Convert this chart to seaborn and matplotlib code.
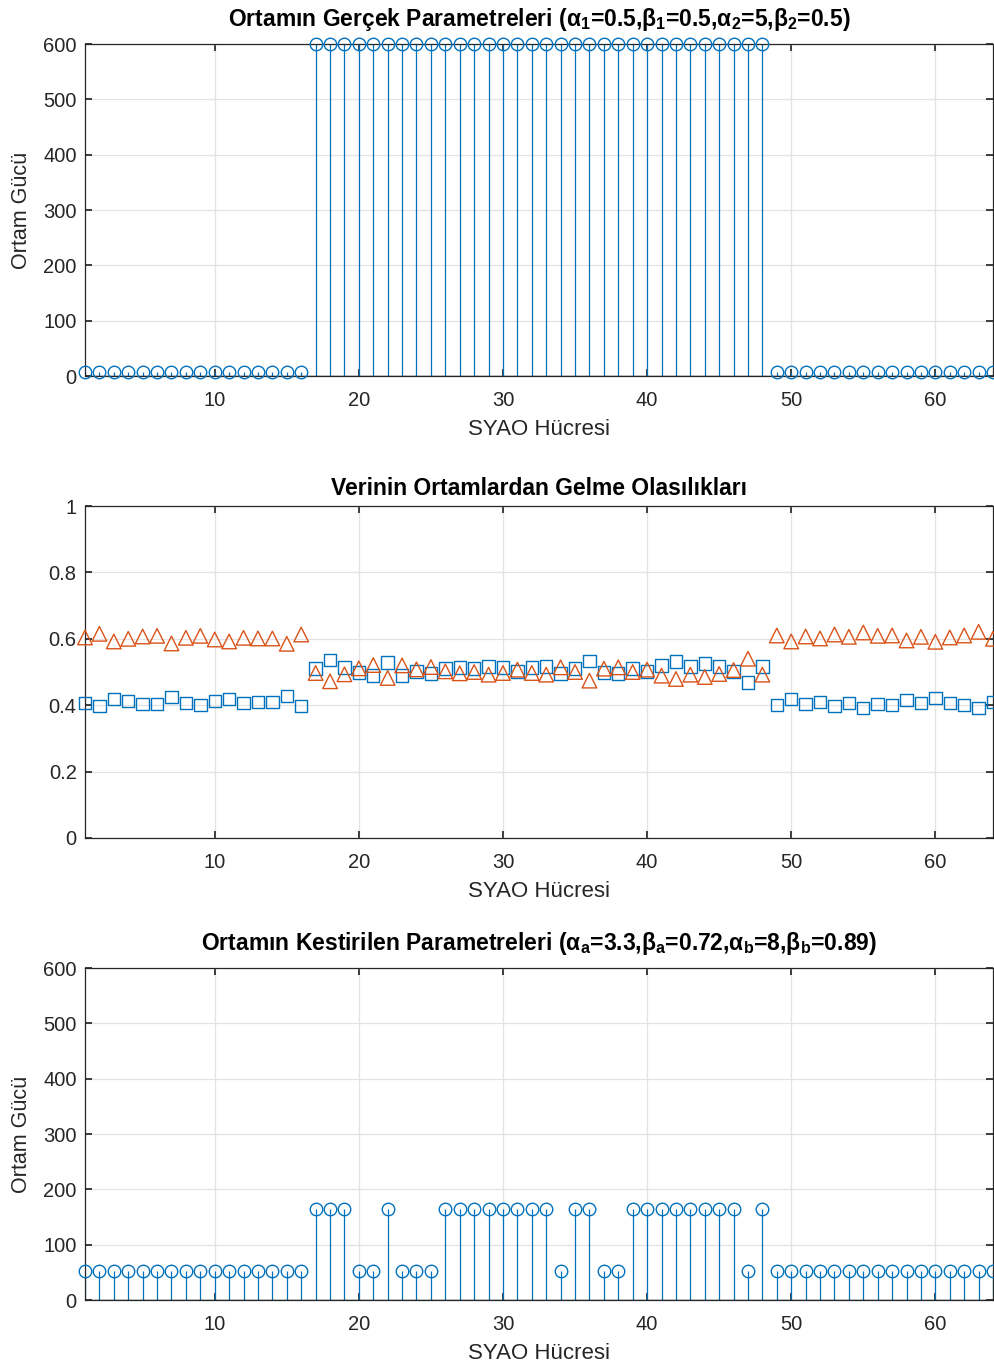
import numpy as np
import pandas as pd
import matplotlib
matplotlib.use("Agg")
import matplotlib.pyplot as plt
import seaborn as sns

# ---------------- data ----------------
cells = list(range(1, 65))

true_power = [8] * 16 + [600] * 32 + [8] * 16

prob_sq = [0.406, 0.397, 0.418, 0.412, 0.403, 0.403, 0.424, 0.406, 0.400, 0.412,
           0.418, 0.406, 0.409, 0.409, 0.427, 0.397,
           0.510, 0.537, 0.514, 0.499, 0.490, 0.528, 0.490, 0.502, 0.496, 0.511,
           0.513, 0.511, 0.516, 0.514, 0.502, 0.514, 0.516, 0.495, 0.510, 0.534,
           0.498, 0.495, 0.510, 0.502, 0.519, 0.531, 0.516, 0.525, 0.516, 0.502,
           0.468, 0.516,
           0.400, 0.418, 0.403, 0.409, 0.397, 0.406, 0.391, 0.403, 0.400, 0.415,
           0.406, 0.421, 0.406, 0.400, 0.391, 0.409]

prob_tri = [0.604, 0.615, 0.592, 0.600, 0.607, 0.609, 0.586, 0.603, 0.609, 0.598,
            0.592, 0.603, 0.601, 0.601, 0.585, 0.613,
            0.497, 0.472, 0.493, 0.511, 0.521, 0.482, 0.520, 0.508, 0.515, 0.502,
            0.496, 0.500, 0.492, 0.497, 0.507, 0.497, 0.492, 0.514, 0.500, 0.474,
            0.510, 0.514, 0.500, 0.507, 0.489, 0.479, 0.492, 0.485, 0.494, 0.506,
            0.540, 0.492,
            0.610, 0.592, 0.607, 0.601, 0.613, 0.606, 0.619, 0.609, 0.610, 0.595,
            0.606, 0.591, 0.604, 0.610, 0.621, 0.600]

LO, HI = 52, 165
est_pattern = "LLLLLLLLLLLLLLLL" + "HHHLLHLLL" + "HHHHHHHH" + "LHHLL" + "HHHHHHHH" + "LH" + "LLLLLLLLLLLLLLLL"
est_power = [HI if c == "H" else LO for c in est_pattern]

titles = ["Ortamın Gerçek Parametreleri (α$_1$=0.5,β$_1$=0.5,α$_2$=5,β$_2$=0.5)",
          "Verinin Ortamlardan Gelme Olasılıkları",
          "Ortamın Kestirilen Parametreleri (α$_a$=3.3,β$_a$=0.72,α$_b$=8,β$_b$=0.89)"]
title_pads = [13, 8, 13]
xlabel = "SYAO Hücresi"
ylabel = "Ortam Gücü"

# ---------------- style ----------------
sns.set_theme(style="whitegrid")
FONT = "Liberation Sans"
plt.rcParams.update({
    "font.family": [FONT, "DejaVu Sans"],
    "mathtext.fontset": "custom",
    "mathtext.rm": FONT + ":bold",
    "mathtext.it": FONT + ":bold",
    "mathtext.bf": FONT + ":bold",
    "mathtext.default": "rm",
    "axes.edgecolor": "#262626",
    "axes.linewidth": 0.9,
    "grid.color": "#e3e3e3",
    "grid.linewidth": 0.9,
    "xtick.direction": "in",
    "ytick.direction": "in",
    "xtick.top": True,
    "ytick.right": True,
    "xtick.bottom": True,
    "ytick.left": True,
    "xtick.major.size": 5,
    "ytick.major.size": 5,
    "xtick.color": "#262626",
    "ytick.color": "#262626",
    "xtick.labelcolor": "#262626",
    "ytick.labelcolor": "#262626",
    "axes.labelcolor": "#262626",
})

BLUE = "#0072BD"
ORANGE = "#D95319"

W, H = 994, 1367
fig = plt.figure(figsize=(W / 100, H / 100), dpi=100)
left = 85 / W
width = 908 / W
height = 332 / H
tops = [44, 506, 968]
axes = [fig.add_axes([left, 1 - (t + 332) / H, width, height]) for t in tops]

df = pd.DataFrame({"cell": cells, "true": true_power, "est": est_power,
                   "p1": prob_sq, "p2": prob_tri})


def stem_panel(ax, y):
    ml, sl, bl = ax.stem(df["cell"], df[y], linefmt="-", markerfmt="o", basefmt="-")
    plt.setp(sl, color=BLUE, linewidth=0.9)
    plt.setp(ml, markerfacecolor="none", markeredgecolor=BLUE, markersize=9,
             markeredgewidth=1.0, clip_on=False, zorder=4)
    plt.setp(bl, color="#262626", linewidth=1.0)
    ax.set_ylim(0, 600)
    ax.set_yticks(range(0, 601, 100))
    ax.set_ylabel(ylabel, fontsize=15.5, labelpad=8)


stem_panel(axes[0], "true")
stem_panel(axes[2], "est")

ax = axes[1]
sns.scatterplot(data=df, x="cell", y="p1", ax=ax, marker="s", s=80,
                facecolor="none", edgecolor=BLUE, linewidth=1.0, zorder=3, clip_on=False)
sns.scatterplot(data=df, x="cell", y="p2", ax=ax, marker="^", s=110,
                facecolor="none", edgecolor=ORANGE, linewidth=1.0, zorder=3, clip_on=False)
ax.set_ylim(0, 1)
ax.set_yticks([0, 0.2, 0.4, 0.6, 0.8, 1])
ax.set_yticklabels(["0", "0.2", "0.4", "0.6", "0.8", "1"])
ax.set_ylabel("")

for a, t, p in zip(axes, titles, title_pads):
    a.set_xlim(1, 64)
    a.set_xticks([10, 20, 30, 40, 50, 60])
    a.tick_params(axis="both", labelsize=14.5)
    a.tick_params(axis="x", pad=10.5)
    a.tick_params(axis="y", pad=6)
    a.set_xlabel(xlabel, fontsize=16, labelpad=7)
    a.set_title(t, fontsize=16.5, fontweight="bold", color="black", pad=p)
    a.grid(True)
    a.set_axisbelow(True)
    for s in a.spines.values():
        s.set_visible(True)
        s.set_color("#262626")

fig.savefig("out.png", dpi=100)
